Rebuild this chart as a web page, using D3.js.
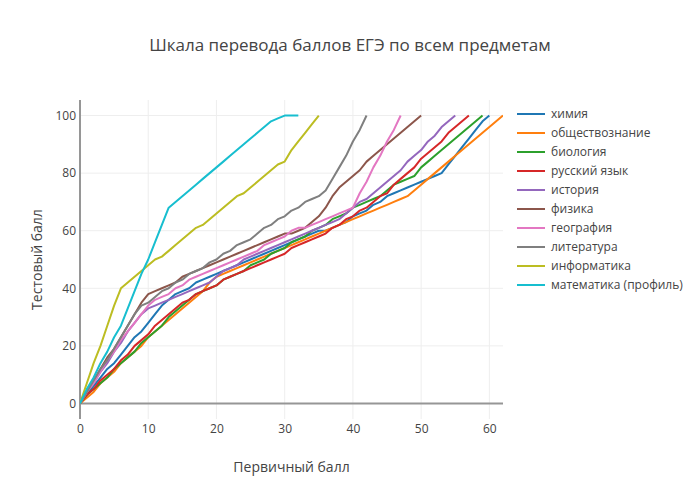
<!DOCTYPE html>
<html>
<head>
<meta charset="utf-8">
<script src="https://cdn.jsdelivr.net/npm/d3@7"></script>
<style>
  body { margin: 0; background: #fff; }
  text { font-family: "Open Sans", sans-serif; fill: #444; }
</style>
</head>
<body>
<div id="chart"></div>
<script>
/* DATA: test score for each primary score 0..max */
const subjects = ["химия", "обществознание", "биология", "русский язык", "история",
  "физика", "география", "литература", "информатика", "математика (профиль)"];

const chemistry = [0,3,6,9,12,14,17,20,23,25, 28,31,34,36,38,39,40,42,43,44,
  45,46,47,48,49,50,51,52,53,54, 55,56,57,58,59,60,60,61,62,63,
  65,66,67,69,70,72,73,74,75,76, 77,78,79,80,83,86,89,92,95,98, 100];
const social = [0,2,4,7,9,11,14,16,18,20, 23,25,27,29,31,33,35,37,39,42,
  44,45,46,47,48,49,50,51,52,53, 54,55,56,57,58,59,60,61,62,63,
  64,65,66,67,68,69,70,71,72, 74,76,78,80,82,84,86,88,90,92,94,96,98,100];
const biology = [0,3,5,7,9,12,14,16,18,21, 23,25,27,30,32,34,36,38,39,40,
  41,43,44,45,46,48,49,50,52,53, 54,56,57,58,60,61,62,64,65,66,
  68,69,70,71,72,74,76,77,78,79, 82,84,86,88,90,92,94,96,98,100];
const russian = [0,3,5,8,10,12,15,17,20,22, 24,27,29,31,33,35,36,38,39,40,
  41,43,44,45,46,47,48,49,50,51, 52,54,55,56,57,58,59,61,62,64,
  65,67,68,70,72,73, 76,78,80,82,85,87,89,91,94,96,98,100];
const history = [0,4,7,11,14,18,21,25,28,31, 33,34,35,36,37,38,39,40,41,42,
  44,46,47,48,50,51,52,53,54,55, 56,57,58,59,60,61,62,63,64,66,
  68,70,71,73,75,77,79,81,84,86, 88,91,93,96,98,100];
const physics = [0,4,8,12,16,19,23,27,31,35, 38,39,40,41,42,44,45,46,47,48,
  49,50,51,52,53,54,55,56,57,58, 59,59,60,61,63,65,68,72,75,77,
  79,81,84,86,88,90,92,94,96,98, 100];
const geography = [0,4,7,11,15,18,22,25,28,31, 34,36,37,38,40,41,43,44,45,46,
  47,48,49,50,51,52,53,55,56,57, 58,60,61,61,62,63,64,65,66,67,
  68,73,77,82,86,91,95,100];
const literature = [0,4,8,12,15,19,23,27,31,34, 35,37,39,40,42,43,45,46,47,49,
  50,52,53,55,56,57,59,61,62,64, 65,67,68,70,71,72,74,78,82,86,
  91,95,100];
const informatics = [0,7,14,20,27,34,40,42,44,46, 48,50,51,53,55,57,59,61,62,64,
  66,68,70,72,73,75,77,79,81,83, 84,88,91,94,97,100];
const maths = [0,5,9,14,18,23,27,33,39,45, 50,56,62,68,70,72,74,76,78,80,
  82,84,86,88,90,92,94,96,98,99, 100,100,100];

const xTicks = [0, 10, 20, 30, 40, 50, 60];
const yTicks = [0, 20, 40, 60, 80, 100];

/* CONSTANTS */
const width = 700;
const height = 500;
const margin = { top: 100, right: 197, bottom: 81, left: 80 };
const colors = ["#1f77b4", "#ff7f0e", "#2ca02c", "#d62728", "#9467bd",
  "#8c564b", "#e377c2", "#7f7f7f", "#bcbd22", "#17becf"];

const series = [chemistry, social, biology, russian, history,
  physics, geography, literature, informatics, maths]
  .map((vals, i) => ({ name: subjects[i], color: colors[i], points: vals.map((v, p) => [p, v]) }));

const svg = d3.select("#chart")
  .append("svg")
  .attr("width", width)
  .attr("height", height);

/* SCALES */
const xScale = d3.scaleLinear()
  .domain([0, 62])
  .range([margin.left, width - margin.right]);

const yScale = d3.scaleLinear()
  .domain([-5.4, 105.4])
  .range([height - margin.bottom, margin.top]);

// grid
svg.append("g")
  .selectAll("line")
  .data(xTicks.filter(d => d !== 0))
  .join("line")
  .attr("x1", d => xScale(d)).attr("x2", d => xScale(d))
  .attr("y1", margin.top).attr("y2", height - margin.bottom)
  .attr("stroke", "#eee");

svg.append("g")
  .selectAll("line")
  .data(yTicks.filter(d => d !== 0))
  .join("line")
  .attr("x1", margin.left).attr("x2", width - margin.right)
  .attr("y1", d => yScale(d)).attr("y2", d => yScale(d))
  .attr("stroke", "#eee");

// zero lines
svg.append("line")
  .attr("x1", xScale(0)).attr("x2", xScale(0))
  .attr("y1", margin.top).attr("y2", height - margin.bottom)
  .attr("stroke", "#969696").attr("stroke-width", 2);
svg.append("line")
  .attr("x1", margin.left).attr("x2", width - margin.right)
  .attr("y1", yScale(0)).attr("y2", yScale(0))
  .attr("stroke", "#969696").attr("stroke-width", 2);

// axes (labels only)
const xAxis = svg.append("g")
  .attr("transform", `translate(0,${height - margin.bottom})`)
  .call(d3.axisBottom(xScale).tickValues(xTicks).tickSize(0).tickPadding(5));
const yAxis = svg.append("g")
  .attr("transform", `translate(${margin.left},0)`)
  .call(d3.axisLeft(yScale).tickValues(yTicks).tickSize(0).tickPadding(4));
[xAxis, yAxis].forEach(g => {
  g.select(".domain").remove();
  g.selectAll("text").style("font-size", "12px").style("font-family", "Open Sans").attr("fill", "#444");
});

// lines
svg.append("clipPath").attr("id", "clip")
  .append("rect")
  .attr("x", margin.left).attr("y", margin.top)
  .attr("width", width - margin.left - margin.right)
  .attr("height", height - margin.top - margin.bottom);

const line = d3.line()
  .x(d => xScale(d[0]))
  .y(d => yScale(d[1]));

svg.append("g")
  .attr("clip-path", "url(#clip)")
  .selectAll("path")
  .data(series)
  .join("path")
  .attr("d", d => line(d.points))
  .attr("fill", "none")
  .attr("stroke", d => d.color)
  .attr("stroke-width", 2)
  .attr("stroke-linejoin", "round");

// title + axis titles
svg.append("text")
  .attr("x", width / 2)
  .attr("y", 51)
  .attr("text-anchor", "middle")
  .style("font-size", "17px")
  .text("Шкала перевода баллов ЕГЭ по всем предметам");

svg.append("text")
  .attr("x", (xScale(0) + xScale(62)) / 2)
  .attr("y", 472)
  .attr("text-anchor", "middle")
  .style("font-size", "14px")
  .text("Первичный балл");

svg.append("text")
  .attr("transform", `translate(42,${(margin.top + height - margin.bottom) / 2}) rotate(-90)`)
  .attr("text-anchor", "middle")
  .style("font-size", "14px")
  .text("Тестовый балл");

// legend
const legend = svg.append("g")
  .selectAll("g")
  .data(series)
  .join("g")
  .attr("transform", (d, i) => `translate(517,${114 + i * 19})`);

legend.append("line")
  .attr("x1", 0).attr("x2", 28)
  .attr("stroke", d => d.color)
  .attr("stroke-width", 2);

legend.append("text")
  .attr("x", 34)
  .attr("dy", "0.35em")
  .style("font-size", "12px")
  .text(d => d.name);
</script>
</body>
</html>
